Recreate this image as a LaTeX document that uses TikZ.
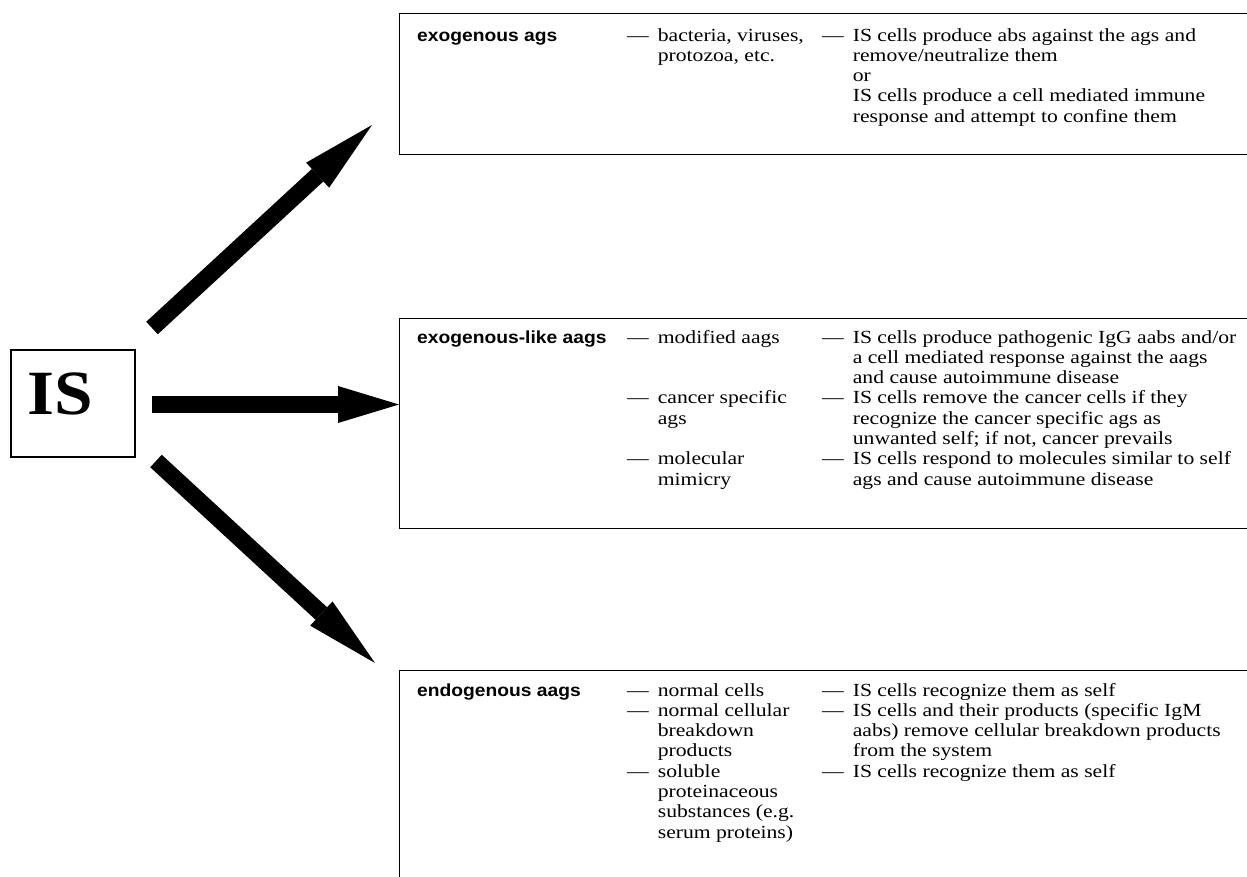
\documentclass[tikz,border=0pt]{standalone}
\usepackage{fontspec}
\setmainfont{Liberation Serif}[FakeStretch=1.17]
\newfontfamily\headfont{Liberation Sans}[FakeStretch=1.1]
\newfontfamily\isfont{Liberation Serif}[FakeStretch=1.1]
\usetikzlibrary{arrows.meta}

\tikzset{
  panel/.style={draw, line width=1.2pt, anchor=north west, inner sep=0pt},
  head/.style={anchor=base west, inner sep=0pt,
    font=\headfont\bfseries\fontsize{17.5}{20.3}\selectfont},
  entry/.style={anchor=base west, inner sep=0pt,
    font=\fontsize{18.5}{20.3}\selectfont},
  bigarrow/.style 2 args={line width=17pt,
    -{Triangle[length=#1,width=#2,line width=0pt]}}
}
\newenvironment{dashlist}{\begin{tabular}[t]{@{}l@{\hspace{9pt}}l@{}}}{\end{tabular}}
\newcommand{\dd}{\textemdash}

\begin{document}
\begin{tikzpicture}[x=1pt,y=-1pt]

\useasboundingbox (0,0) rectangle (1247,876);
\clip (0,0) rectangle (1247,876);

% Immune system box
\node[draw, line width=1.2pt, minimum width=124pt, minimum height=107pt] (IS) at (73,403.5) {};
\node[font=\isfont\bfseries\fontsize{63}{70}\selectfont, inner sep=0pt] (ISlabel) at (60,394) {IS};

% Boxes (running past the page edge)
\node[panel, minimum width=870pt, minimum height=141pt] (exo) at (399,13) {};
\node[panel, minimum width=870pt, minimum height=210pt] (exolike) at (399,318) {};
\node[panel, minimum width=870pt, minimum height=240pt] (endo) at (399,670) {};

% Arrow ends
\coordinate (T1) at (152,328);
\coordinate (H1) at (372,125);
\coordinate (T2) at (152,404.5);
\coordinate (H2) at (exolike.west |- T2);
\coordinate (T3) at (156,461);
\coordinate (H3) at (375,663);

% Arrows
\draw[bigarrow={74pt}{34pt}] (T1) -- (H1);
\draw[bigarrow={61pt}{37pt}] (T2) -- (H2);
\draw[bigarrow={73pt}{33pt}] (T3) -- (H3);

% Exogenous ags
\node[head] (exoHead) at (417,41) {exogenous ags};
\node[entry] (exoSrc) at (627,41) {\begin{dashlist}
  \dd & bacteria, viruses,\\
      & protozoa, etc.
\end{dashlist}};
\node[entry] (exoRes) at (822,41) {\begin{dashlist}
  \dd & IS cells produce abs against the ags and\\
      & remove/neutralize them\\
      & or\\
      & IS cells produce a cell mediated immune\\
      & response and attempt to confine them
\end{dashlist}};

% Exogenous-like aags
\node[head] (likeHead) at (417,343) {exogenous-like aags};
\node[entry] (likeSrc) at (627,343) {\begin{dashlist}
  \dd & modified aags\\
      & \\
      & \\
  \dd & cancer specific\\
      & ags\\
      & \\
  \dd & molecular\\
      & mimicry
\end{dashlist}};
\node[entry] (likeRes) at (822,343) {\begin{dashlist}
  \dd & IS cells produce pathogenic IgG aabs and/or\\
      & a cell mediated response against the aags\\
      & and cause autoimmune disease\\
  \dd & IS cells remove the cancer cells if they\\
      & recognize the cancer specific ags as\\
      & unwanted self; if not, cancer prevails\\
  \dd & IS cells respond to molecules similar to self\\
      & ags and cause autoimmune disease
\end{dashlist}};

% Endogenous aags
\node[head] (endoHead) at (417,696) {endogenous aags};
\node[entry] (endoSrc) at (627,696) {\begin{dashlist}
  \dd & normal cells\\
  \dd & normal cellular\\
      & breakdown\\
      & products\\
  \dd & soluble\\
      & proteinaceous\\
      & substances (e.g.\\
      & serum proteins)
\end{dashlist}};
\node[entry] (endoRes) at (822,696) {\begin{dashlist}
  \dd & IS cells recognize them as self\\
  \dd & IS cells and their products (specific IgM\\
      & aabs) remove cellular breakdown products\\
      & from the system\\
  \dd & IS cells recognize them as self
\end{dashlist}};

\end{tikzpicture}
\end{document}
